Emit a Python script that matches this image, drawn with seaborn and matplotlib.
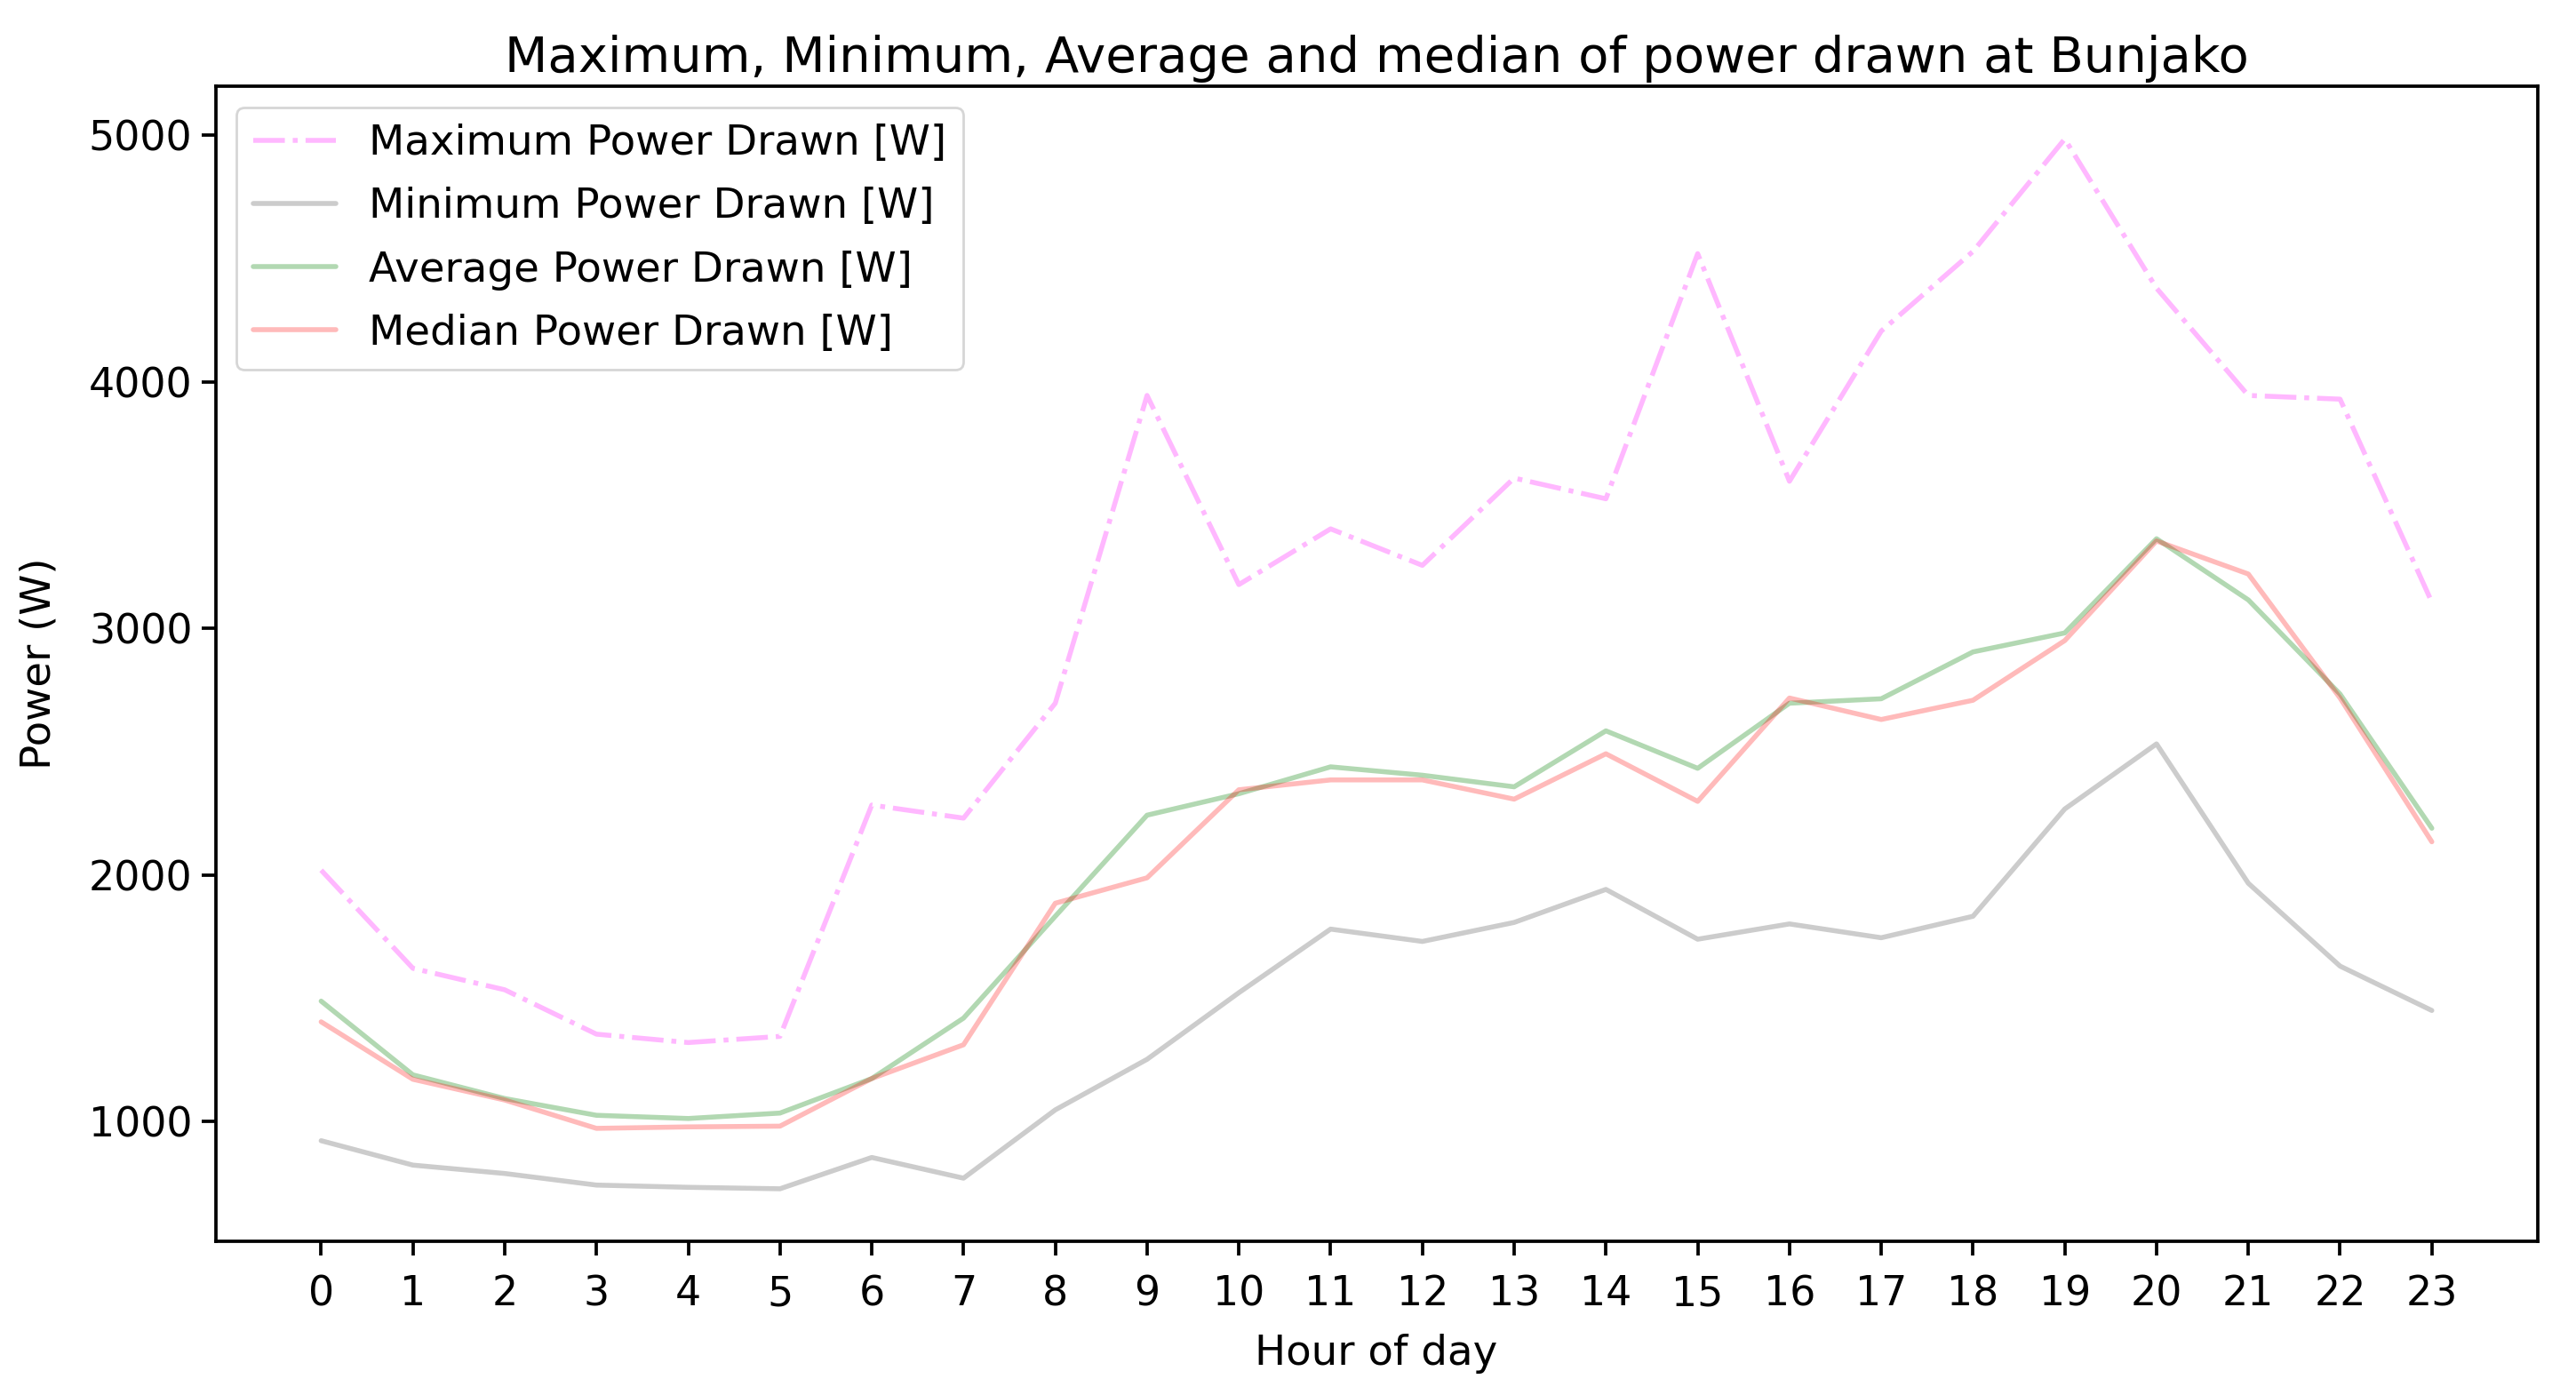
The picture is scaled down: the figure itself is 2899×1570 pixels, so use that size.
import numpy as np
import pandas as pd
import seaborn as sns
import matplotlib.pyplot as plt

# Hourly power statistics
hours = list(range(24))
max_power = [2019, 1621, 1534, 1354, 1320, 1345, 2283, 2230, 2696, 3944, 3177, 3403,
             3255, 3609, 3525, 4519, 3596, 4205, 4528, 4984, 4379, 3944, 3929, 3106]
min_power = [922, 823, 789, 742, 733, 727, 854, 770, 1047, 1252, 1522, 1780,
             1730, 1807, 1941, 1739, 1801, 1745, 1832, 2267, 2531, 1966, 1630, 1450]
avg_power = [1488, 1189, 1093, 1025, 1012, 1034, 1174, 1419, 1832, 2242, 2329, 2438,
             2404, 2357, 2584, 2432, 2696, 2714, 2904, 2981, 3363, 3115, 2733, 2189]
median_power = [1404, 1171, 1087, 972, 978, 981, 1174, 1311, 1885, 1988, 2345, 2385,
                2385, 2307, 2491, 2298, 2717, 2630, 2708, 2950, 3354, 3220, 2717, 2134]

df = pd.DataFrame({
    "hour": hours,
    "max": max_power,
    "min": min_power,
    "avg": avg_power,
    "median": median_power,
})

sns.set_theme(style="ticks", rc={
    "axes.edgecolor": "black",
    "axes.linewidth": 1.35,
    "xtick.major.width": 1.35,
    "ytick.major.width": 1.35,
    "xtick.major.size": 5.9,
    "ytick.major.size": 5.9,
    "xtick.major.pad": 7.5,
    "xtick.color": "black",
    "ytick.color": "black",
    "text.color": "black",
    "axes.labelcolor": "black",
    "font.size": 16.8,
    "axes.labelsize": 16.8,
    "xtick.labelsize": 16.5,
    "ytick.labelsize": 16.5,
    "legend.fontsize": 16.8,
    "axes.titlesize": 20.2,
    "lines.linewidth": 2.0,
})
plt.rcParams["font.family"] = ["DejaVu Sans"]

fig, ax = plt.subplots(figsize=(14.495, 7.85), dpi=200)
fig.subplots_adjust(left=0.0837, right=0.985, top=0.938, bottom=0.1102)

sns.lineplot(data=df, x="hour", y="max", ax=ax, color="magenta", alpha=0.28,
             linestyle="-.", label="Maximum Power Drawn [W]")
sns.lineplot(data=df, x="hour", y="min", ax=ax, color="grey", alpha=0.4,
             label="Minimum Power Drawn [W]")
sns.lineplot(data=df, x="hour", y="avg", ax=ax, color="green", alpha=0.3,
             label="Average Power Drawn [W]")
sns.lineplot(data=df, x="hour", y="median", ax=ax, color="red", alpha=0.27,
             label="Median Power Drawn [W]")

ax.set_xticks(hours)
ax.set_xlabel("Hour of day", labelpad=8)
ax.set_ylabel("Power (W)", labelpad=12)
ax.set_title("Maximum, Minimum, Average and median of power drawn at Bunjako")
ax.legend(loc="upper left", labelspacing=0.56)

fig.savefig("out.png", dpi=200)
